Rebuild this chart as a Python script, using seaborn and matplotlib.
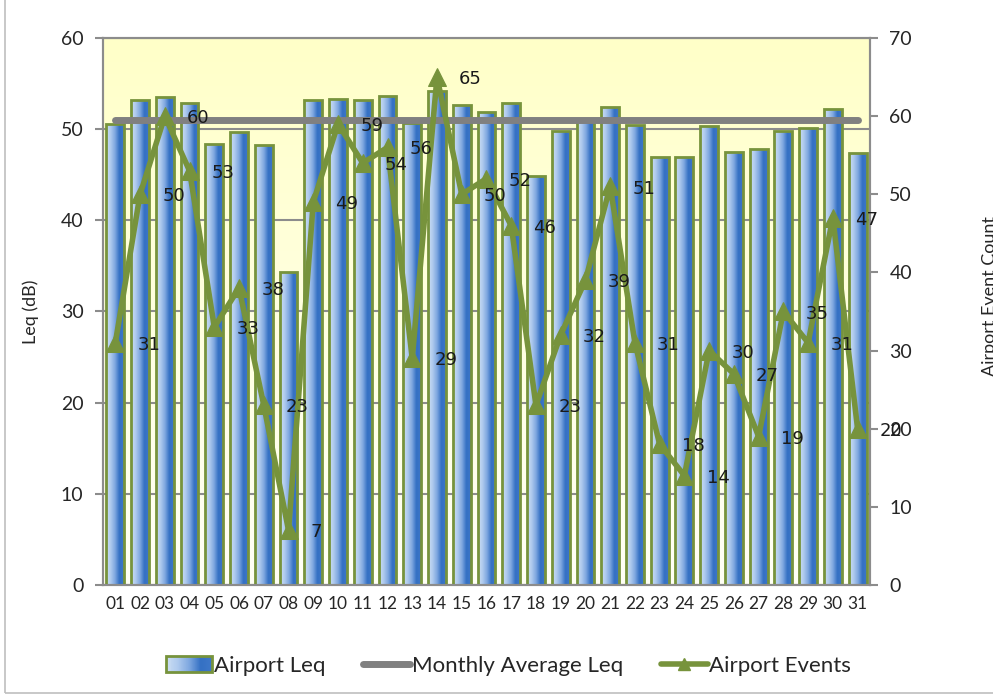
"""
Airport Leq / Events daily chart
"""

import matplotlib
matplotlib.use('Agg')
import matplotlib.pyplot as plt
import matplotlib.patches as mpatches
from matplotlib.colors import LinearSegmentedColormap, to_rgb
from matplotlib.legend_handler import HandlerBase
from matplotlib.lines import Line2D
import seaborn as sns
import numpy as np
import pandas as pd

# データ
days = ['01', '02', '03', '04', '05', '06', '07', '08', '09', '10',
        '11', '12', '13', '14', '15', '16', '17', '18', '19', '20',
        '21', '22', '23', '24', '25', '26', '27', '28', '29', '30', '31']
airport_leq = [50.6, 53.2, 53.5, 52.9, 48.4, 49.7, 48.3, 34.3, 53.2, 53.3,
               53.2, 53.6, 50.7, 54.2, 52.6, 51.9, 52.9, 44.9, 49.8, 51.0,
               52.4, 50.5, 46.9, 46.9, 50.3, 47.5, 47.8, 49.8, 50.1, 52.2, 47.4]
airport_events = [31, 50, 60, 53, 33, 38, 23, 7, 49, 59,
                  54, 56, 29, 65, 50, 52, 46, 23, 32, 39,
                  51, 31, 18, 14, 30, 27, 19, 35, 31, 47, 20]
monthly_avg_leq = 51.0

df = pd.DataFrame({'day': days, 'leq': airport_leq, 'events': airport_events})
df['pos'] = np.arange(len(df))

GREEN = '#77933C'
GRAY = '#808080'
GRID = '#8C8C8C'
bar_cmap = LinearSegmentedColormap.from_list(
    'bar', ['#CCDEF3', '#B0CBEE', '#7FA8E0', '#3470C3', '#3D77C8'],
    N=256)

sns.set_style('white')
plt.rcParams['font.family'] = ['Lato', 'DejaVu Sans']

fig = plt.figure(figsize=(9.93, 6.97), dpi=100)
ax = fig.add_axes([0.1037, 0.1607, 0.7724, 0.7848])

# 背景のグラデーション
bg = np.linspace(0, 1, 256)[:, None]
top = np.array(to_rgb('#FFFFC8'))
bot = np.array(to_rgb('#FFFFF6'))
bg_img = top[None, None, :] * (1 - bg[..., None]) + bot[None, None, :] * bg[..., None]
ax.imshow(bg_img, extent=[0, 1, 0, 1], transform=ax.transAxes,
          aspect='auto', zorder=0.1)

# 棒グラフ
sns.barplot(data=df, x='day', y='leq', ax=ax, width=0.72,
            color='#6E9BDB', saturation=1, zorder=2)
grad = np.linspace(0, 1, 64)[None, :]
for p in list(ax.patches):
    x0, w, h = p.get_x(), p.get_width(), p.get_height()
    im = ax.imshow(grad, cmap=bar_cmap, extent=[x0, x0 + w, 0, h],
                   aspect='auto', zorder=2, interpolation='bilinear')
    im.set_clip_path(p)
    p.set_facecolor('none')
    p.set_edgecolor(GREEN)
    p.set_linewidth(2)
    p.set_zorder(3)

# 月平均
sns.lineplot(x=[df['pos'].iloc[0], df['pos'].iloc[-1]],
             y=[monthly_avg_leq, monthly_avg_leq], ax=ax,
             color=GRAY, linewidth=5, zorder=4, solid_capstyle='round')

ax.set_xlim(-0.5, len(days) - 0.5)
ax.set_ylim(0, 60)
ax.set_yticks(range(0, 61, 10))
ax.set_axisbelow(True)
ax.yaxis.grid(True, color=GRID, linewidth=1.5, zorder=0.5)
ax.xaxis.grid(False)
ax.set_xlabel('')
ax.set_ylabel('Leq (dB)', fontsize=13, labelpad=16)
ax.set_xticks(df['pos'])
ax.set_xticklabels(days)
ax.set_xticks(np.arange(-0.5, len(days), 1), minor=True)
ax.tick_params(axis='x', which='major', length=0, labelsize=12.5, pad=8)
ax.tick_params(axis='x', which='minor', length=6, width=1.5, color=GRID, direction='out')
ax.tick_params(axis='y', length=6, width=1.5, color=GRID, direction='out',
               labelsize=14, left=True, pad=8)
for s in ax.spines.values():
    s.set_color(GRID)
    s.set_linewidth(1.5)

# 右軸: イベント数
ax2 = ax.twinx()
sns.lineplot(data=df, x='pos', y='events', ax=ax2, color=GREEN, linewidth=4,
             marker='^', markersize=13, markeredgecolor=GREEN, sort=False)
ax2.set_ylim(0, 70)
ax2.set_yticks(range(0, 71, 10))
ax2.set_ylabel('')
ax2.tick_params(axis='y', length=6, width=1.5, color=GRID, direction='out',
                labelsize=14, right=True, pad=8)
for s in ax2.spines.values():
    s.set_color(GRID)
    s.set_linewidth(1.5)
ax2.set_xlim(-0.5, len(days) - 0.5)

for i, v in zip(df['pos'], df['events']):
    ax2.annotate(str(v), (i, v), xytext=(16, -1.5), textcoords='offset points',
                 ha='left', va='center', fontsize=13, family='DejaVu Sans',
                 color='#1A1A1A', zorder=6)

fig.text(0.997, 0.575, 'Airport Event Count', rotation=90, ha='center',
         va='center', fontsize=13)


# 凡例（グラデーションの棒）
class GradientHandler(HandlerBase):
    def create_artists(self, legend, orig_handle, xdescent, ydescent,
                       width, height, fontsize, trans):
        arts = []
        n = 48
        for k in range(n):
            r = mpatches.Rectangle((-xdescent + k * width / n, -ydescent),
                                   width / n * 1.6, height,
                                   facecolor=bar_cmap(k / (n - 1)),
                                   edgecolor='none', antialiased=False,
                                   transform=trans)
            arts.append(r)
        arts.append(mpatches.Rectangle((-xdescent, -ydescent), width, height,
                                       facecolor='none', edgecolor=GREEN,
                                       linewidth=2, transform=trans))
        return arts


bar_handle = mpatches.Patch(label='Airport Leq')
avg_handle = Line2D([], [], color=GRAY, linewidth=5, solid_capstyle='round',
                    label='Monthly Average Leq')
ev_handle = Line2D([], [], color=GREEN, linewidth=4, marker='^', markersize=9,
                   label='Airport Events')
fig.legend(handles=[bar_handle, avg_handle, ev_handle],
           handler_map={bar_handle: GradientHandler()},
           loc='center', bbox_to_anchor=(0.512, 0.045), ncol=3, frameon=False,
           fontsize=16, handlelength=2.1, handletextpad=0.08, columnspacing=1.7)

# 外枠
fig.patches.append(mpatches.Rectangle((0.005, 0.006), 1.2, 1.2, transform=fig.transFigure,
                                      facecolor='none', edgecolor='#BFBFBF', linewidth=1.2))

fig.savefig('out.png', dpi=100, facecolor='white')
